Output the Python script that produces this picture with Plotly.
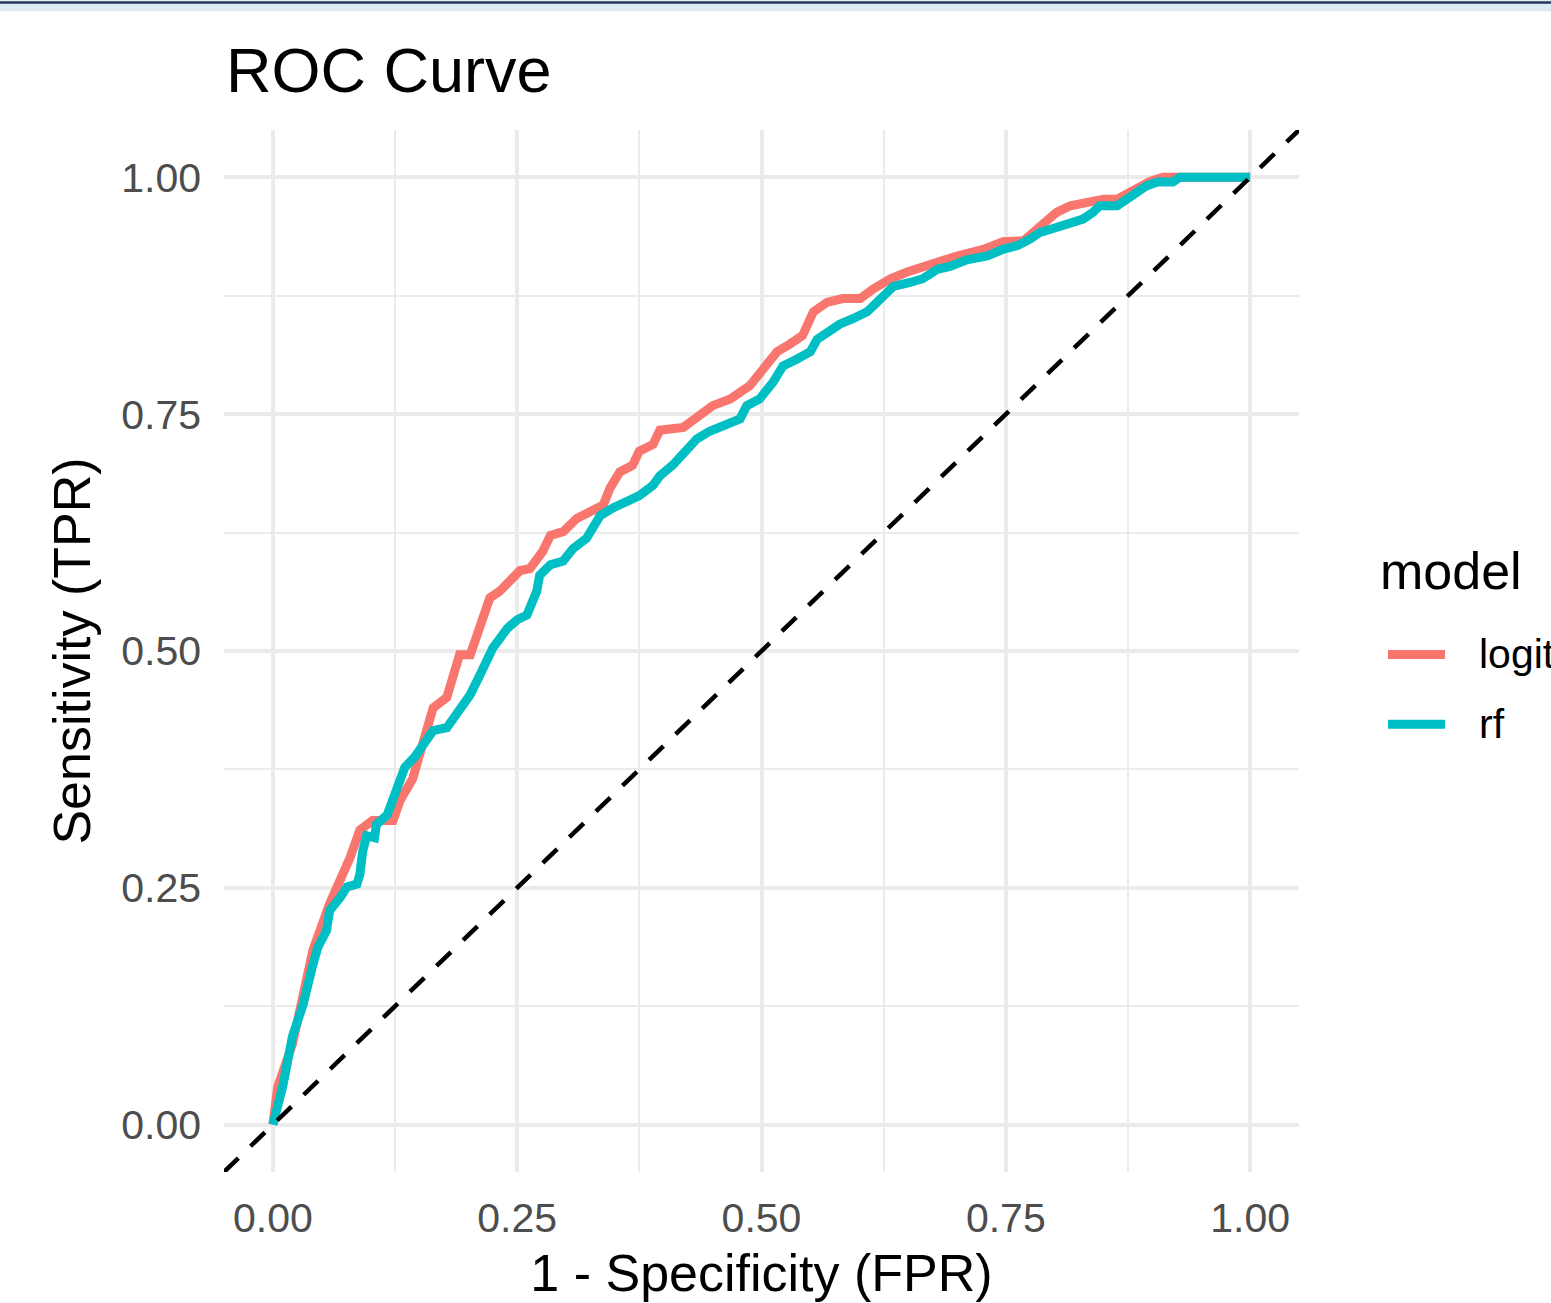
import plotly.graph_objects as go

# ---------------- data ----------------
logit_fpr = [0.0, 0.005, 0.020, 0.031, 0.041, 0.058, 0.069, 0.079, 0.089, 0.102, 0.123, 0.130,
             0.143, 0.154, 0.164, 0.178, 0.191, 0.202, 0.215, 0.222, 0.232, 0.246, 0.253, 0.263,
             0.276, 0.284, 0.297, 0.311, 0.324, 0.338, 0.345, 0.355, 0.368, 0.375, 0.389, 0.396,
             0.420, 0.434, 0.450, 0.468, 0.488, 0.502, 0.516, 0.529, 0.542, 0.553, 0.567, 0.583,
             0.601, 0.614, 0.632, 0.649, 0.665, 0.683, 0.700, 0.727, 0.747, 0.768, 0.778, 0.788,
             0.802, 0.816, 0.836, 0.850, 0.864, 0.877, 0.890, 0.898, 0.911, 1.0]
logit_tpr = [0.0, 0.040, 0.085, 0.142, 0.184, 0.233, 0.258, 0.282, 0.311, 0.321, 0.321, 0.342,
             0.365, 0.401, 0.440, 0.451, 0.496, 0.496, 0.535, 0.556, 0.563, 0.577, 0.585, 0.587,
             0.605, 0.622, 0.626, 0.640, 0.647, 0.654, 0.672, 0.689, 0.696, 0.711, 0.718, 0.733,
             0.736, 0.746, 0.759, 0.766, 0.780, 0.798, 0.816, 0.824, 0.833, 0.858, 0.868, 0.872,
             0.872, 0.882, 0.893, 0.900, 0.906, 0.913, 0.917, 0.924, 0.932, 0.933, 0.942, 0.953,
             0.963, 0.970, 0.974, 0.977, 0.977, 0.984, 0.991, 0.996, 1.0, 1.0]

rf_fpr = [0.0, 0.010, 0.020, 0.031, 0.041, 0.046, 0.055, 0.058, 0.069, 0.076, 0.086, 0.089,
          0.092, 0.096, 0.104, 0.106, 0.117, 0.123, 0.135, 0.145, 0.154, 0.164, 0.178, 0.188,
          0.202, 0.212, 0.225, 0.240, 0.250, 0.260, 0.270, 0.273, 0.284, 0.297, 0.307, 0.321,
          0.328, 0.335, 0.348, 0.362, 0.375, 0.389, 0.396, 0.409, 0.424, 0.434, 0.447, 0.461,
          0.478, 0.485, 0.498, 0.512, 0.522, 0.536, 0.550, 0.557, 0.567, 0.580, 0.594, 0.608,
          0.618, 0.624, 0.635, 0.652, 0.665, 0.680, 0.693, 0.710, 0.731, 0.747, 0.762, 0.775,
          0.785, 0.795, 0.806, 0.816, 0.829, 0.839, 0.846, 0.864, 0.870, 0.877, 0.887, 0.894,
          0.905, 0.921, 0.928, 1.0]
rf_tpr = [0.0, 0.040, 0.093, 0.127, 0.169, 0.187, 0.205, 0.226, 0.240, 0.251, 0.254, 0.264,
          0.289, 0.305, 0.303, 0.317, 0.327, 0.345, 0.377, 0.388, 0.401, 0.416, 0.419, 0.433,
          0.454, 0.475, 0.503, 0.524, 0.533, 0.538, 0.563, 0.580, 0.591, 0.595, 0.608, 0.619,
          0.633, 0.643, 0.651, 0.658, 0.664, 0.675, 0.685, 0.696, 0.711, 0.724, 0.732, 0.738,
          0.745, 0.759, 0.766, 0.784, 0.801, 0.808, 0.816, 0.829, 0.837, 0.845, 0.851, 0.858,
          0.868, 0.875, 0.885, 0.889, 0.893, 0.903, 0.906, 0.913, 0.917, 0.924, 0.928, 0.935,
          0.942, 0.945, 0.949, 0.953, 0.956, 0.963, 0.970, 0.970, 0.974, 0.980, 0.984, 0.991,
          0.995, 0.995, 1.0, 1.0]

diag_x = [-0.05, 1.05]
diag_y = [-0.05, 1.05]

model_names = ["logit", "rf"]
model_colors = ["#F8766D", "#00BFC4"]
tick_vals = [0.0, 0.25, 0.5, 0.75, 1.0]
tick_text = ["0.00", "0.25", "0.50", "0.75", "1.00"]

# ---------------- layout geometry ----------------
W, H = 1551, 1303
ML, MR, MT, MB = 224, 252, 130, 128
PW, PH = W - ML - MR, H - MT - MB


def px_x(px):
    return (px - ML) / PW


def px_y(py):
    return (H - MB - py) / PH


FONT = "Liberation Sans, Arial, Helvetica, sans-serif"

fig = go.Figure()
fig.add_trace(go.Scatter(x=logit_fpr, y=logit_tpr, mode="lines", name=model_names[0],
                         line=dict(color=model_colors[0], width=9), showlegend=False))
fig.add_trace(go.Scatter(x=rf_fpr, y=rf_tpr, mode="lines", name=model_names[1],
                         line=dict(color=model_colors[1], width=9), showlegend=False))
fig.add_trace(go.Scatter(x=diag_x, y=diag_y, mode="lines", showlegend=False,
                         line=dict(color="black", width=4.5, dash="20px,17px")))

axis_common = dict(
    range=[-0.05, 1.05], tickmode="array", tickvals=tick_vals, ticktext=tick_text,
    showgrid=True, gridcolor="#EBEBEB", gridwidth=3.5, zeroline=False, showline=False,
    tickfont=dict(family=FONT, size=41, color="#4D4D4D"),
    minor=dict(tickmode="array", tickvals=[0.125, 0.375, 0.625, 0.875],
               showgrid=True, gridcolor="#EBEBEB", gridwidth=2),
    fixedrange=True,
)

fig.update_xaxes(**axis_common, ticks="", ticklabelstandoff=18,
                 title=dict(text="1 - Specificity (FPR)", standoff=14,
                            font=dict(family=FONT, size=52, color="black")))
fig.update_yaxes(**axis_common, ticks="", ticklabelstandoff=22,
                 title=dict(text="Sensitivity (TPR)", standoff=13,
                            font=dict(family=FONT, size=52, color="black")))

# manual legend (ggplot style)
shapes = []
annotations = []
annotations.append(dict(text="model", x=px_x(1378), y=px_y(572), xref="paper", yref="paper",
                        xanchor="left", yanchor="middle", showarrow=False,
                        font=dict(family=FONT, size=52, color="black")))
for i, (name, col) in enumerate(zip(model_names, model_colors)):
    yy = 656 + i * 70
    shapes.append(dict(type="line", xref="paper", yref="paper",
                       x0=px_x(1388), x1=px_x(1445), y0=px_y(yy), y1=px_y(yy),
                       line=dict(color=col, width=9)))
    annotations.append(dict(text=name, x=px_x(1477), y=px_y(yy), xref="paper", yref="paper",
                            xanchor="left", yanchor="middle", showarrow=False,
                            font=dict(family=FONT, size=41, color="black")))

# screenshot top border strip
shapes.append(dict(type="rect", xref="paper", yref="paper", x0=px_x(0), x1=px_x(W),
                   y0=px_y(11), y1=px_y(0), fillcolor="#DCEBF3", line=dict(width=0), layer="below"))
shapes.append(dict(type="rect", xref="paper", yref="paper", x0=px_x(0), x1=px_x(W),
                   y0=px_y(3.5), y1=px_y(1), fillcolor="#27365A", line=dict(width=0), layer="below"))

fig.update_layout(
    width=W, height=H,
    margin=dict(l=ML, r=MR, t=MT, b=MB, pad=0),
    paper_bgcolor="white", plot_bgcolor="white",
    title=dict(text="ROC Curve", x=226 / W, xref="container", xanchor="left",
               y=1 - 70 / H, yref="container", yanchor="middle",
               font=dict(family=FONT, size=63, color="black")),
    shapes=shapes, annotations=annotations,
    showlegend=False,
)

fig.write_html("out.html")
